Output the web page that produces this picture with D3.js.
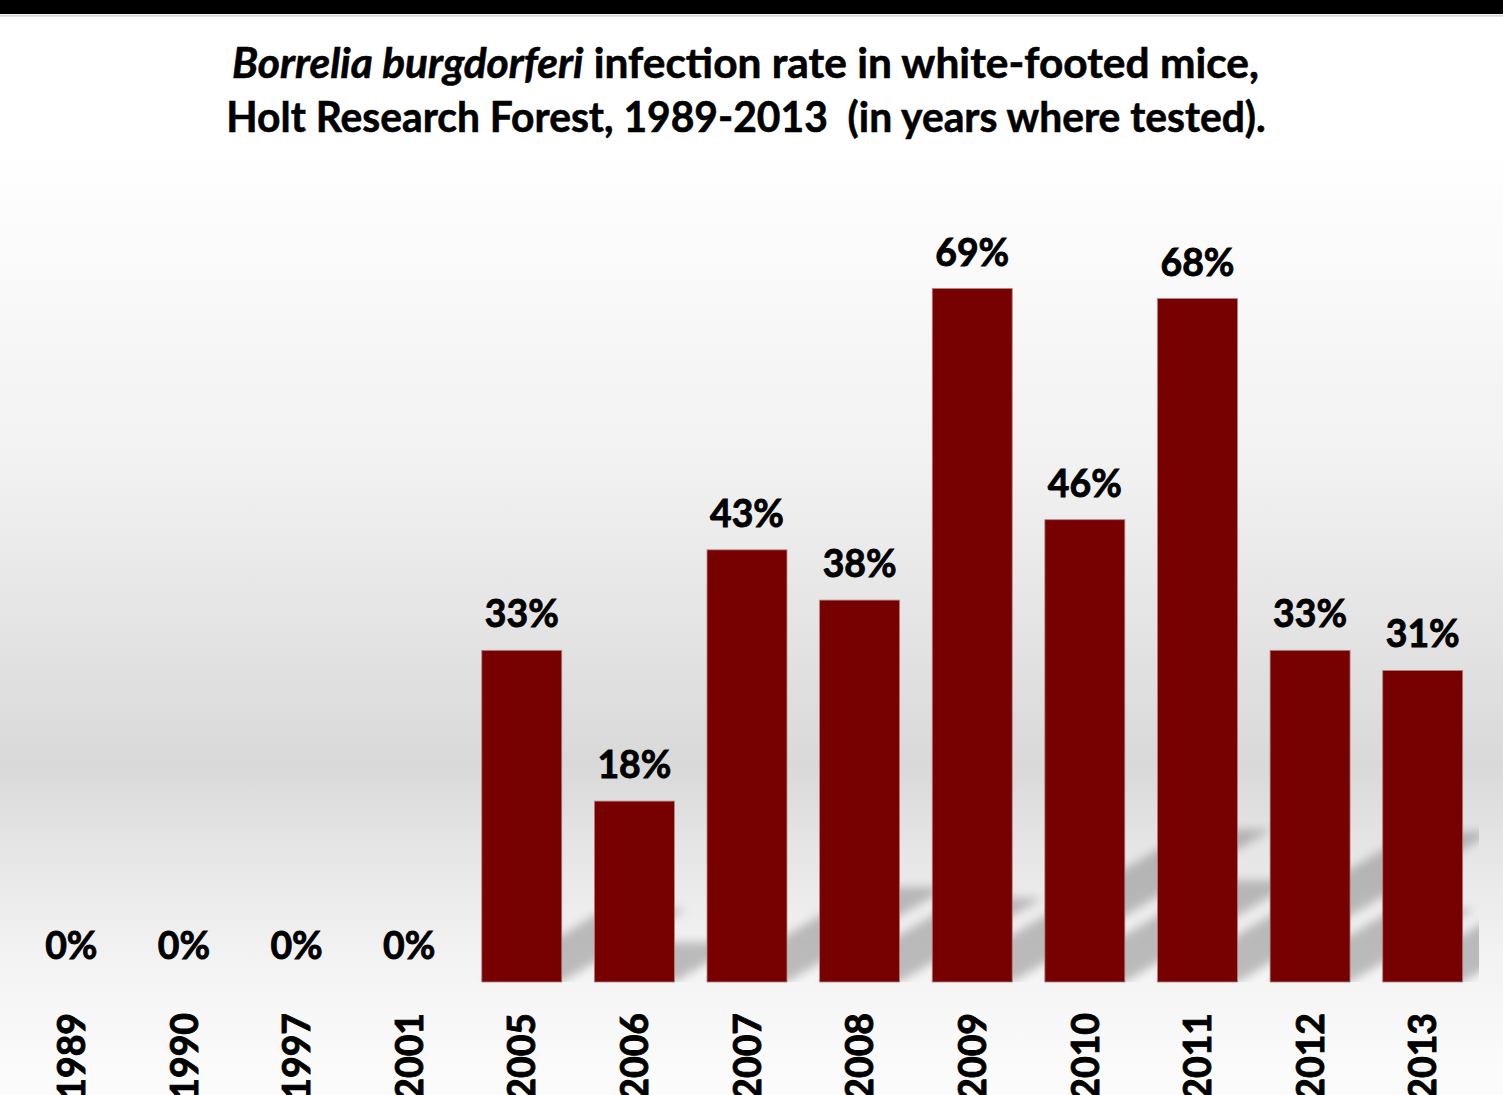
<!DOCTYPE html>
<html>
<head>
<meta charset="utf-8">
<script src="https://cdnjs.cloudflare.com/ajax/libs/d3/7.8.5/d3.min.js"></script>
<style>
  html, body { margin: 0; padding: 0; background: #fff; }
  svg { display: block; }
  text { font-family: Lato, "Open Sans", sans-serif; font-weight: bold; fill: #000; stroke: #000; stroke-width: 0.9px; }
</style>
</head>
<body>
<div id="chart"></div>
<script>
// data
const years = ["1989", "1990", "1997", "2001", "2005", "2006", "2007", "2008", "2009", "2010", "2011", "2012", "2013"];
const rates = [0, 0, 0, 0, 33, 18, 43, 38, 69, 46, 68, 33, 31];
const titleLine1 = ["Borrelia burgdorferi", " infection rate in white-footed mice,"];
const titleLine2 = "Holt Research Forest, 1989-2013  (in years where tested).";

const W = 1503, H = 1095;
const base = 982;

const svg = d3.select("#chart").append("svg")
    .attr("width", W)
    .attr("height", H);

const defs = svg.append("defs");

// page background gradient
const bg = defs.append("linearGradient")
    .attr("id", "bg")
    .attr("gradientUnits", "userSpaceOnUse")
    .attr("x1", 0).attr("x2", 0)
    .attr("y1", 16).attr("y2", H);
[[16, "#ffffff"], [150, "#ffffff"], [471, "#f1f1f1"], [600, "#e6e6e6"], [765, "#d9d9d9"],
 [846, "#e5e5e5"], [926, "#efefef"], [982, "#f5f5f5"], [1095, "#fcfcfc"]]
    .forEach(s => bg.append("stop")
        .attr("offset", (s[0] - 16) / (H - 16))
        .attr("stop-color", s[1]));

defs.append("filter")
    .attr("id", "blur")
    .attr("x", "-20%").attr("y", "-20%")
    .attr("width", "140%").attr("height", "140%")
    .append("feGaussianBlur")
    .attr("stdDeviation", 5);

defs.append("clipPath").attr("id", "plotclip")
    .append("rect")
    .attr("x", 0).attr("y", 0)
    .attr("width", 1479).attr("height", base);

svg.append("rect")
    .attr("x", 0).attr("y", 0)
    .attr("width", W).attr("height", H)
    .attr("fill", "url(#bg)");

// top black band + thin gray rule
svg.append("rect").attr("x", 0).attr("y", 0).attr("width", W).attr("height", 14).attr("fill", "#000");
svg.append("rect").attr("x", 0).attr("y", 14.7).attr("width", W).attr("height", 2).attr("fill", "#d8d8d8");

const x = d3.scaleBand()
    .domain(years)
    .range([15, 1479])
    .paddingInner(0.29)
    .paddingOuter(0.145);

const y = d3.scaleLinear()
    .domain([0, 70])
    .range([base, base - 70 * 10.05]);

const data = years.map((yr, i) => ({year: yr, rate: rates[i]}));

// perspective shadows behind bars
const k = 0.22, slope = 1.7;
svg.append("g")
    .attr("clip-path", "url(#plotclip)")
    .selectAll("path")
    .data(data.filter(d => d.rate > 0))
    .join("path")
    .attr("d", d => {
        const h = base - y(d.rate);
        const x0 = x(d.year), x1 = x0 + x.bandwidth();
        const dy = h * k, dx = dy * slope;
        return `M${x0},${base}L${x1},${base}L${x1 + dx},${base - dy}L${x0 + dx},${base - dy}Z`;
    })
    .attr("fill", "#777")
    .attr("opacity", 0.45)
    .attr("filter", "url(#blur)");

// bars
svg.append("g")
    .selectAll("rect")
    .data(data)
    .join("rect")
    .attr("x", d => x(d.year))
    .attr("y", d => y(d.rate))
    .attr("width", x.bandwidth())
    .attr("height", d => base - y(d.rate))
    .attr("fill", "#770000")
    .attr("stroke", "#b38080")
    .attr("stroke-width", 0.8);

// condense helper: Lato is wider than the original font
function condense(target, str, size) {
    const t = svg.append("text").style("font-size", size + "px").text(str);
    const w = t.node().getComputedTextLength();
    t.remove();
    return target / w;
}

const labelSize = 38;
const sx = condense(74, "33%", labelSize);

// value labels
svg.append("g")
    .selectAll("text")
    .data(data)
    .join("text")
    .attr("transform", d => `translate(${x(d.year) + x.bandwidth() / 2},${y(d.rate) - 23}) scale(${sx},1)`)
    .attr("text-anchor", "middle")
    .style("font-size", labelSize + "px")
    .text(d => d.rate + "%");

// x axis (year labels, rotated)
const xAxis = svg.append("g")
    .attr("transform", `translate(0,${base})`)
    .call(d3.axisBottom(x).tickSize(0).tickPadding(0));
xAxis.select(".domain").remove();
xAxis.selectAll("text")
    .attr("y", 0)
    .attr("dy", "0.36em")
    .attr("text-anchor", "end")
    .attr("transform", `translate(0,31) rotate(-90) scale(${sx},1)`)
    .style("font-family", "Lato, 'Open Sans', sans-serif")
    .style("font-weight", "bold")
    .style("font-size", labelSize + "px")
    .attr("fill", "#000");

// title
const titleSize = 42;
const t1 = svg.append("text")
    .attr("text-anchor", "middle")
    .style("font-size", titleSize + "px")
    .style("stroke-width", "0.6px");
t1.append("tspan").style("font-style", "italic").text(titleLine1[0]);
t1.append("tspan").text(titleLine1[1]);
const w1 = t1.node().getComputedTextLength();
t1.attr("transform", `translate(745.5,78) scale(${1027 / w1},1)`);

const t2 = svg.append("text")
    .attr("text-anchor", "middle")
    .style("font-size", titleSize + "px")
    .style("stroke-width", "0.6px")
    .style("white-space", "pre")
    .text(titleLine2);
const w2 = t2.node().getComputedTextLength();
t2.attr("transform", `translate(746,132) scale(${1040 / w2},1)`);
</script>
</body>
</html>
